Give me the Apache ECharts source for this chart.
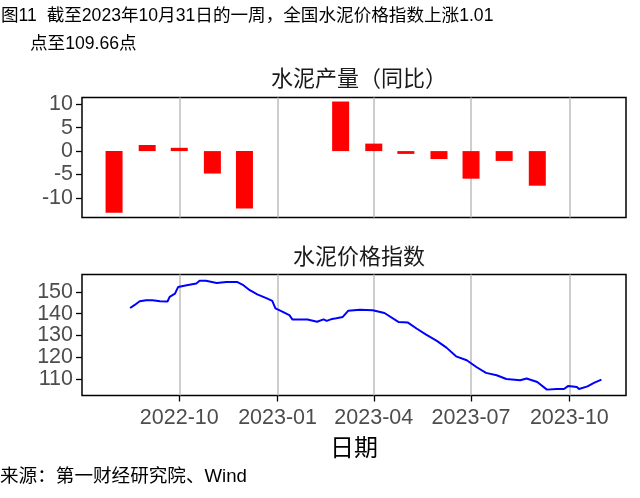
<!DOCTYPE html>
<html>
<head>
<meta charset="utf-8">
<script src="https://cdn.jsdelivr.net/npm/echarts@6/dist/echarts.min.js"></script>
<style>
html,body{margin:0;padding:0;background:#fff;}
#chart{width:640px;height:498px;}
</style>
</head>
<body>
<div id="chart"></div>
<script>
// ---- data ----
const barMonths = ['2022-08-01','2022-09-01','2022-10-01','2022-11-01','2022-12-01','2023-03-01','2023-04-01','2023-05-01','2023-06-01','2023-07-01','2023-08-01','2023-09-01'];
const barValues = [-13.2, 1.3, 0.7, -4.8, -12.3, 10.6, 1.6, -0.6, -1.7, -5.9, -2.1, -7.4];

const lineDates = ['2022-08-16','2022-08-20','2022-08-25','2022-08-31','2022-09-06','2022-09-13','2022-09-20','2022-09-22','2022-09-27','2022-09-30',
  '2022-10-08','2022-10-17','2022-10-20','2022-10-26','2022-11-05','2022-11-14','2022-11-24','2022-11-30','2022-12-06','2022-12-13',
  '2022-12-22','2022-12-27','2022-12-30','2023-01-04','2023-01-12','2023-01-15','2023-01-29','2023-02-07','2023-02-13','2023-02-16',
  '2023-02-21','2023-02-25','2023-03-03','2023-03-08','2023-03-19','2023-03-31','2023-04-11','2023-04-24','2023-05-03','2023-05-11',
  '2023-05-20','2023-05-30','2023-06-08','2023-06-17','2023-06-27','2023-07-06','2023-07-15','2023-07-25','2023-08-03','2023-08-16',
  '2023-08-22','2023-09-01','2023-09-10','2023-09-19','2023-09-26','2023-09-30','2023-10-08','2023-10-10','2023-10-18','2023-10-24','2023-10-31'];
const lineValues = [142.6,143.9,145.7,146.2,146.2,145.7,145.6,147.7,149.2,152.3,
  153.1,153.9,155.1,155.1,154.1,154.6,154.6,153.1,150.8,148.9,
  147.0,145.9,142.4,141.3,139.3,137.3,137.3,136.3,137.4,136.7,
  137.6,137.9,138.5,141.3,141.8,141.6,140.3,136.2,135.9,133.2,
  130.4,127.5,124.4,120.4,118.6,115.5,112.8,111.7,110.0,109.4,
  110.2,108.6,105.1,105.4,105.4,106.8,106.3,105.4,106.6,108.2,109.66];

const xTickDates = ['2022-10-01','2023-01-01','2023-04-01','2023-07-01','2023-10-01'];
const barTicks = [-10, -5, 0, 5, 10];
const lineTicks = [110, 120, 130, 140, 150];

const mainTitle1 = '图11  截至2023年10月31日的一周，全国水泥价格指数上涨1.01';
const mainTitle2 = '点至109.66点';
const barTitle = '水泥产量（同比）';
const lineTitle = '水泥价格指数';
const xName = '日期';
const sourceText = '来源：第一财经研究院、Wind';

// ---- helpers ----
const ts = s => { const p = s.split('-').map(Number); return new Date(p[0], p[1]-1, p[2]).getTime(); };
const xMin = ts('2022-07-02');
const xMax = ts('2023-11-23');
const xTicks = xTickDates.map(ts);
const fmt = v => { const d = new Date(v); const m = d.getMonth()+1; return d.getFullYear() + '-' + (m<10?'0':'') + m; };

const FONT = '"Liberation Sans", "Noto Sans CJK SC", sans-serif';
const labelColor = '#4d4d4d';

const chart = echarts.init(document.getElementById('chart'), null, {renderer:'canvas'});

const option = {
  animation: false,
  backgroundColor: '#fff',
  textStyle: {fontFamily: FONT},
  grid: [
    {left: 82, right: 14, top: 97.5, height: 120, show: true, borderColor: '#000', borderWidth: 1.5, backgroundColor: 'transparent'},
    {left: 82, right: 14, top: 274.5, height: 121, show: true, borderColor: '#000', borderWidth: 1.5, backgroundColor: 'transparent'}
  ],
  xAxis: [
    {type: 'value', gridIndex: 0, min: xMin, max: xMax, scale: true,
     axisLine: {show: false},
     axisTick: {show: false, customValues: xTicks},
     axisLabel: {show: false, customValues: xTicks},
     splitLine: {show: true, lineStyle: {color: '#bebebe', width: 1.5}}},
    {type: 'value', gridIndex: 1, min: xMin, max: xMax, scale: true,
     axisLine: {show: false},
     axisTick: {show: true, customValues: xTicks, length: 6, lineStyle: {color: '#000', width: 1.3}},
     axisLabel: {show: true, customValues: xTicks, formatter: v => fmt(v), fontSize: 21.5, color: labelColor, fontFamily: FONT, margin: 12, hideOverlap: false, showMinLabel: true, showMaxLabel: true},
     splitLine: {show: true, lineStyle: {color: '#bebebe', width: 1.5}},
     name: xName, nameLocation: 'middle', nameGap: 42,
     nameTextStyle: {fontSize: 24, color: '#000', fontFamily: FONT}}
  ],
  yAxis: [
    {type: 'value', gridIndex: 0, min: -14.2, max: 11.46,
     axisLine: {show: false},
     axisTick: {show: true, customValues: barTicks, length: 6, lineStyle: {color: '#000', width: 1.3}},
     axisLabel: {customValues: barTicks, fontSize: 21.5, color: labelColor, fontFamily: FONT, margin: 9},
     splitLine: {show: false}},
    {type: 'value', gridIndex: 1, min: 102.4, max: 158,
     axisLine: {show: false},
     axisTick: {show: true, customValues: lineTicks, length: 6, lineStyle: {color: '#000', width: 1.3}},
     axisLabel: {customValues: lineTicks, fontSize: 21.5, color: labelColor, fontFamily: FONT, margin: 9},
     splitLine: {show: false}}
  ],
  title: [
    {text: barTitle, left: 354, top: 64, textAlign: 'center',
     textStyle: {fontSize: 22, fontWeight: 'normal', color: '#1a1a1a', fontFamily: FONT}},
    {text: lineTitle, left: 354, top: 242, textAlign: 'center',
     textStyle: {fontSize: 22, fontWeight: 'normal', color: '#1a1a1a', fontFamily: FONT}}
  ],
  graphic: [
    {type: 'text', left: 1, top: 7, style: {text: mainTitle1, fill: '#000', font: '17.6px ' + FONT}},
    {type: 'text', left: 30, top: 35, style: {text: mainTitle2, fill: '#000', font: '17.6px ' + FONT}},
    {type: 'text', left: 0, top: 468, style: {text: sourceText, fill: '#000', font: '18.6px ' + FONT}}
  ],
  series: [
    {type: 'bar', xAxisIndex: 0, yAxisIndex: 0, barWidth: 17,
     itemStyle: {color: '#ff0000'},
     data: barMonths.map((d, i) => [ts(d), barValues[i]])},
    {type: 'line', xAxisIndex: 1, yAxisIndex: 1, showSymbol: false, symbol: 'none',
     lineStyle: {color: '#0000ff', width: 2},
     data: lineDates.map((d, i) => [ts(d), lineValues[i]])}
  ]
};
chart.setOption(option);
</script>
</body>
</html>
